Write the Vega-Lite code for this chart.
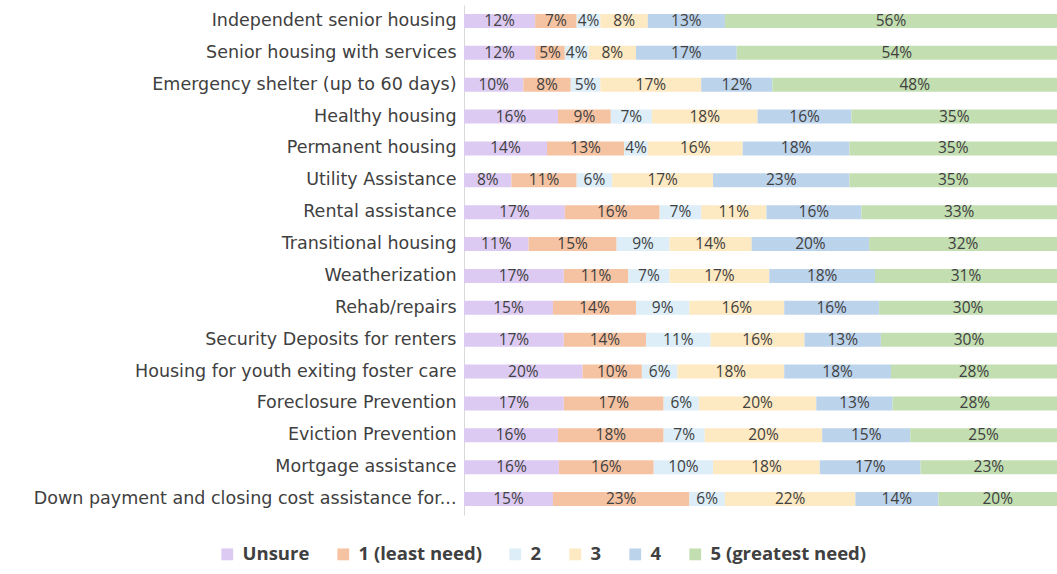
{
  "$schema": "https://vega.github.io/schema/vega-lite/v6.json",
  "autosize": "none",
  "width": 593,
  "height": 510,
  "padding": {"left": 464, "top": 5, "right": 0, "bottom": 59},
  "background": "white",
  "config": {"view": {"stroke": null}, "font": "Open Sans"},
  "data": {"values": [
    {"c": "Independent senior housing", "Unsure": 0.12, "1 (least need)": 0.07, "2": 0.04, "3": 0.08, "4": 0.13, "5 (greatest need)": 0.56},
    {"c": "Senior housing with services", "Unsure": 0.12, "1 (least need)": 0.05, "2": 0.04, "3": 0.08, "4": 0.17, "5 (greatest need)": 0.54},
    {"c": "Emergency shelter (up to 60 days)", "Unsure": 0.10, "1 (least need)": 0.08, "2": 0.05, "3": 0.17, "4": 0.12, "5 (greatest need)": 0.48},
    {"c": "Healthy housing", "Unsure": 0.16, "1 (least need)": 0.09, "2": 0.07, "3": 0.18, "4": 0.16, "5 (greatest need)": 0.35},
    {"c": "Permanent housing", "Unsure": 0.14, "1 (least need)": 0.13, "2": 0.04, "3": 0.16, "4": 0.18, "5 (greatest need)": 0.35},
    {"c": "Utility Assistance", "Unsure": 0.08, "1 (least need)": 0.11, "2": 0.06, "3": 0.17, "4": 0.23, "5 (greatest need)": 0.35},
    {"c": "Rental assistance", "Unsure": 0.17, "1 (least need)": 0.16, "2": 0.07, "3": 0.11, "4": 0.16, "5 (greatest need)": 0.33},
    {"c": "Transitional housing", "Unsure": 0.11, "1 (least need)": 0.15, "2": 0.09, "3": 0.14, "4": 0.20, "5 (greatest need)": 0.32},
    {"c": "Weatherization", "Unsure": 0.17, "1 (least need)": 0.11, "2": 0.07, "3": 0.17, "4": 0.18, "5 (greatest need)": 0.31},
    {"c": "Rehab/repairs", "Unsure": 0.15, "1 (least need)": 0.14, "2": 0.09, "3": 0.16, "4": 0.16, "5 (greatest need)": 0.30},
    {"c": "Security Deposits for renters", "Unsure": 0.17, "1 (least need)": 0.14, "2": 0.11, "3": 0.16, "4": 0.13, "5 (greatest need)": 0.30},
    {"c": "Housing for youth exiting foster care", "Unsure": 0.20, "1 (least need)": 0.10, "2": 0.06, "3": 0.18, "4": 0.18, "5 (greatest need)": 0.28},
    {"c": "Foreclosure Prevention", "Unsure": 0.17, "1 (least need)": 0.17, "2": 0.06, "3": 0.20, "4": 0.13, "5 (greatest need)": 0.28},
    {"c": "Eviction Prevention", "Unsure": 0.16, "1 (least need)": 0.18, "2": 0.07, "3": 0.20, "4": 0.15, "5 (greatest need)": 0.25},
    {"c": "Mortgage assistance", "Unsure": 0.16, "1 (least need)": 0.16, "2": 0.10, "3": 0.18, "4": 0.17, "5 (greatest need)": 0.23},
    {"c": "Down payment and closing cost assistance for...", "Unsure": 0.15, "1 (least need)": 0.23, "2": 0.06, "3": 0.22, "4": 0.14, "5 (greatest need)": 0.20}
  ]},
  "transform": [
    {"fold": ["Unsure", "1 (least need)", "2", "3", "4", "5 (greatest need)"], "as": ["s", "v"]},
    {"calculate": "indexof(['Unsure', '1 (least need)', '2', '3', '4', '5 (greatest need)'], datum.s)", "as": "k"}
  ],
  "encoding": {
    "y": {
      "field": "c", "type": "nominal", "sort": null, "title": null,
      "scale": {"paddingInner": 0.56, "paddingOuter": 0.28},
      "axis": {
        "ticks": false, "domainColor": "#d9d9d9", "domainWidth": 1,
        "labelPadding": 8, "labelFontSize": 17.5, "labelColor": "#404040",
        "labelFont": "DejaVu Sans", "labelLimit": 470
      }
    }
  },
  "layer": [
    {
      "mark": {"type": "bar"},
      "encoding": {
        "x": {"field": "v", "type": "quantitative", "stack": "normalize", "axis": null, "scale": {"domain": [0, 1], "nice": false}},
        "color": {
          "field": "s", "type": "nominal",
          "sort": ["Unsure", "1 (least need)", "2", "3", "4", "5 (greatest need)"],
          "scale": {
            "domain": ["Unsure", "1 (least need)", "2", "3", "4", "5 (greatest need)"],
            "range": ["#dccaf3", "#f6c3a2", "#ddeef8", "#fde9c2", "#bcd3ec", "#c3dfb2"]
          },
          "legend": {
            "title": null, "orient": "none", "direction": "horizontal",
            "legendX": -246, "legendY": 540,
            "symbolType": "square", "symbolSize": 140, "symbolStrokeWidth": 0,
            "labelFontSize": 18.5, "labelFontWeight": "bold", "labelColor": "#404040",
            "labelFont": "Open Sans", "columnPadding": 24, "labelOffset": 6
          }
        },
        "order": {"field": "k", "type": "quantitative"}
      }
    },
    {
      "mark": {"type": "text", "fontSize": 15.5, "font": "Open Sans", "baseline": "middle"},
      "encoding": {
        "x": {"field": "v", "type": "quantitative", "stack": "normalize", "bandPosition": 0.5},
        "color": {
          "field": "s", "type": "nominal",
          "scale": {
            "domain": ["Unsure", "1 (least need)", "2", "3", "4", "5 (greatest need)"],
            "range": ["#404040", "#404040", "#404040", "#404040", "#404040", "#404040"]
          },
          "legend": null
        },
        "order": {"field": "k", "type": "quantitative"},
        "text": {"field": "v", "type": "quantitative", "format": ".0%"}
      }
    }
  ],
  "resolve": {"scale": {"color": "independent"}}
}
